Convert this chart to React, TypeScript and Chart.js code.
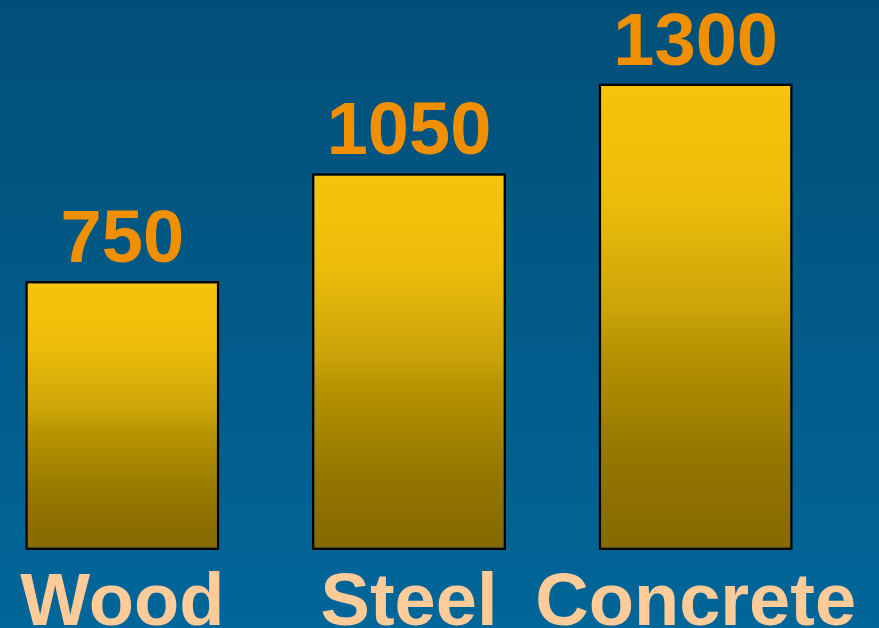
import React, { useEffect, useRef } from "react";
import { Chart, registerables } from "chart.js";

Chart.register(...registerables);

const categories: string[] = ["Wood", "Steel", "Concrete"];
const values: number[] = [750, 1050, 1300];

const valueLabelPlugin = {
  id: "valueLabels",
  afterDatasetsDraw(chart: any) {
    const { ctx } = chart;
    const meta = chart.getDatasetMeta(0);
    ctx.save();
    ctx.font = "bold 74px 'Liberation Sans', Arial, sans-serif";
    ctx.fillStyle = "#f09000";
    ctx.textAlign = "center";
    ctx.textBaseline = "alphabetic";
    meta.data.forEach((bar: any, i: number) => {
      ctx.fillText(String(values[i]), bar.x, bar.y - 19);
    });
    ctx.restore();
  },
};

export default function App() {
  const ref = useRef<HTMLCanvasElement | null>(null);

  useEffect(() => {
    if (!ref.current) return;
    const chart = new Chart(ref.current, {
      type: "bar",
      data: {
        labels: categories,
        datasets: [
          {
            data: values,
            backgroundColor: (c: any) => {
              const ch = c.chart;
              const area = ch.chartArea;
              if (!area || c.dataIndex === undefined) return "#d4a800";
              const y = ch.scales.y;
              const top = y.getPixelForValue(values[c.dataIndex]);
              const bottom = y.getPixelForValue(0);
              const g = ch.ctx.createLinearGradient(0, top, 0, bottom);
              g.addColorStop(0, "#f5c50c");
              g.addColorStop(0.25, "#ecbc0a");
              g.addColorStop(0.48, "#cca40a");
              g.addColorStop(0.56, "#b89400");
              g.addColorStop(0.82, "#927400");
              g.addColorStop(1, "#866900");
              return g;
            },
            borderColor: "#000000",
            borderWidth: 2.5,
            borderSkipped: false,
            categoryPercentage: 1,
            barPercentage: 0.677,
          },
        ],
      },
      options: {
        animation: false,
        responsive: false,
        maintainAspectRatio: false,
        layout: { padding: { left: 0, right: 40, top: 0, bottom: 0 } },
        plugins: {
          legend: { display: false },
          tooltip: { enabled: false },
        },
        scales: {
          x: {
            afterFit: (s: any) => {
              s.paddingLeft = 0;
              s.paddingRight = 0;
            },
            grid: { display: false, drawTicks: false },
            border: { display: false },
            ticks: {
              color: "#ffcc99",
              padding: 18,
              maxRotation: 0,
              minRotation: 0,
              autoSkip: false,
              font: {
                family: "'Liberation Sans', Arial, sans-serif",
                size: 74,
                weight: "bold",
                lineHeight: 1,
              },
            },
          },
          y: {
            display: false,
            min: 0,
            max: 1533,
          },
        },
      },
      plugins: [valueLabelPlugin],
    });
    return () => chart.destroy();
  }, []);

  return (
    <div
      style={{
        position: "fixed",
        left: 0,
        top: 0,
        width: 879,
        height: 628,
        overflow: "hidden",
        background: "linear-gradient(180deg, #014f78 0%, #025a88 50%, #016699 100%)",
      }}
    >
      <canvas
        ref={ref}
        width={900}
        height={660}
        style={{ position: "absolute", left: -21, top: 0, width: 900, height: 660 }}
      />
    </div>
  );
}
